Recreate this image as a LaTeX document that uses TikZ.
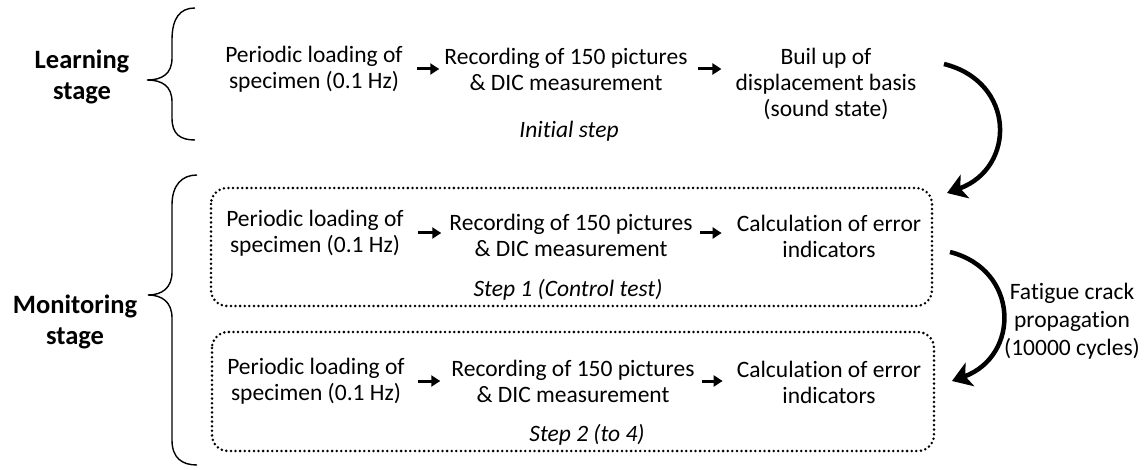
\documentclass[tikz,border=0pt]{standalone}
\usepackage{fontspec}
\setmainfont{Carlito}[Ligatures=NoCommon]
\usetikzlibrary{arrows.meta}
\begin{document}
\begin{tikzpicture}[x=1pt,y=-1pt,
  txt/.style={align=center,inner sep=0pt,font=\fontsize{23.5}{26}\selectfont},
  stagelabel/.style={align=center,inner sep=0pt,font=\fontsize{26.5}{31}\selectfont\bfseries},
  steplabel/.style={inner sep=0pt,font=\fontsize{23.5}{26}\selectfont\itshape},
  smallarrow/.style={line width=3pt,-{Triangle[length=9pt,width=11pt]}},
  bigarrow/.style={line width=4.5pt,-{Stealth[length=19pt,width=25pt,inset=5pt]}},
  dotbox/.style={line width=2.8pt,dash pattern=on 0pt off 4.6pt,line cap=round,rounded corners=16pt},
  bracestyle/.style={line width=1.4pt}]
\useasboundingbox (0,0) rectangle (1145,470);

% stage labels
\node[stagelabel] (learn) at (82,77) {Learning\\stage};
\node[stagelabel] (monit) at (75,322) {Monitoring\\stage};

% braces
\draw[bracestyle] (195,8) .. controls (180,8) and (172,18) .. (172,40) -- (172,58)
  .. controls (172,74) and (162,80) .. (147,80)
  .. controls (162,80) and (172,86) .. (172,102) -- (172,118)
  .. controls (172,134) and (180,140) .. (195,140);
\draw[bracestyle] (197,175) .. controls (182,175) and (172,185) .. (172,205) -- (172,272)
  .. controls (172,288) and (162,295) .. (148,295)
  .. controls (162,295) and (172,302) .. (172,318) -- (172,440)
  .. controls (172,458) and (182,465) .. (197,465);

% dotted boxes
\draw[dotbox] (211,188) rectangle (932,306);
\draw[dotbox] (212,332) rectangle (934,451);

% row 1: learning
\node[txt] (p1) at (314,69) {Periodic loading of\\specimen (0.1 Hz)};
\node[txt] (r1) at (566,69) {Recording of 150 pictures\\\& DIC measurement};
\node[txt] (b1) at (826,84) {Buil up of\\displacement basis\\(sound state)};
\node[steplabel] (s0) at (569,131) {Initial step};
\draw[smallarrow] ([xshift=14pt]p1.east) -- ([xshift=-5pt]r1.west);
\draw[smallarrow] ([xshift=10pt]r1.east) -- ([xshift=-14pt]b1.west |- r1.east);

% row 2: step 1
\node[txt] (p2) at (315,233) {Periodic loading of\\specimen (0.1 Hz)};
\node[txt] (r2) at (571,235) {Recording of 150 pictures\\\& DIC measurement};
\node[txt] (c2) at (829,236) {Calculation of error\\indicators};
\node[steplabel] (s1) at (568,290) {Step 1 (Control test)};
\draw[smallarrow] ([xshift=14pt]p2.east) -- ([xshift=-8pt]r2.west |- p2.east);
\draw[smallarrow] ([xshift=7pt]r2.east |- p2.east) -- ([xshift=-15pt]c2.west |- p2.east);

% row 3: step 2
\node[txt] (p3) at (316,381) {Periodic loading of\\specimen (0.1 Hz)};
\node[txt] (r3) at (573,381) {Recording of 150 pictures\\\& DIC measurement};
\node[txt] (c3) at (829,382) {Calculation of error\\indicators};
\node[steplabel] (s2) at (587,435) {Step 2 (to 4)};
\draw[smallarrow] ([xshift=13pt]p3.east) -- ([xshift=-11pt]r3.west |- p3.east);
\draw[smallarrow] ([xshift=7pt]r3.east |- p3.east) -- ([xshift=-14pt]c3.west |- p3.east);

% fatigue label
\node[txt,font=\fontsize{23.5}{28}\selectfont] (fat) at (1072,321) {Fatigue crack\\propagation\\(10000 cycles)};

% curved arrows
\coordinate (a1s) at (944,64);
\coordinate (a1e) at (947,193);
\coordinate (a2s) at (950,252);
\coordinate (a2e) at (952,381);
\draw[bigarrow] (a1s) .. controls (1016,82) and (1016,168) .. (a1e);
\draw[bigarrow] (a2s) .. controls (1020,270) and (1020,356) .. (a2e);
\end{tikzpicture}
\end{document}
